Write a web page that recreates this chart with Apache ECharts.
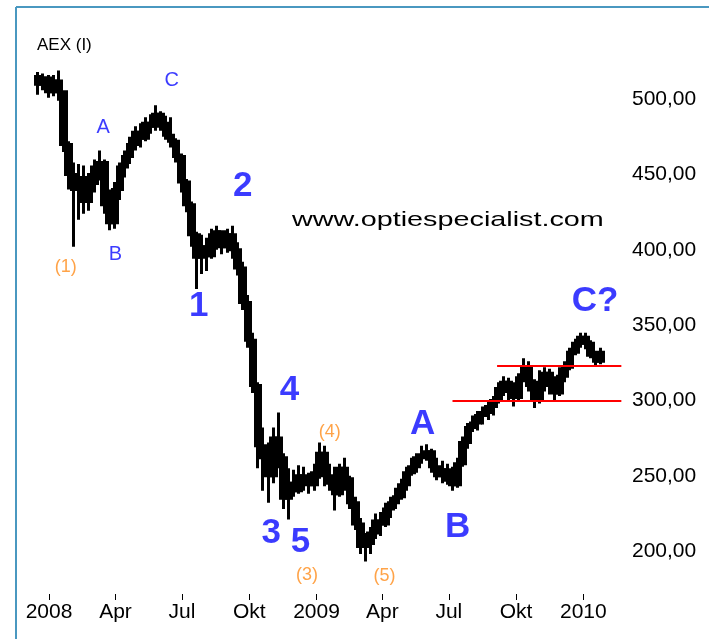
<!DOCTYPE html>
<html>
<head>
<meta charset="utf-8">
<script src="https://cdn.jsdelivr.net/npm/echarts@6.0.0/dist/echarts.min.js"></script>
<style>
  html, body { margin: 0; padding: 0; background: #fff; }
  #main { width: 709px; height: 639px; }
</style>
</head>
<body>
<div id="main"></div>
<script>
  // weekly bars AEX
  var weeks = [
    '2007-12-17','2007-12-24','2007-12-31','2008-01-07','2008-01-14','2008-01-21','2008-01-28','2008-02-04','2008-02-11','2008-02-18',
    '2008-02-25','2008-03-03','2008-03-10','2008-03-17','2008-03-24','2008-03-31','2008-04-07','2008-04-14','2008-04-21','2008-04-28',
    '2008-05-05','2008-05-12','2008-05-19','2008-05-26','2008-06-02','2008-06-09','2008-06-16','2008-06-23','2008-06-30','2008-07-07',
    '2008-07-14','2008-07-21','2008-07-28','2008-08-04','2008-08-11','2008-08-18','2008-08-25','2008-09-01','2008-09-08','2008-09-15',
    '2008-09-22','2008-09-29','2008-10-06','2008-10-13','2008-10-20','2008-10-27','2008-11-03','2008-11-10','2008-11-17','2008-11-24',
    '2008-12-01','2008-12-08','2008-12-15','2008-12-22','2008-12-29','2009-01-05','2009-01-12','2009-01-19','2009-01-26','2009-02-02',
    '2009-02-09','2009-02-16','2009-02-23','2009-03-02','2009-03-09','2009-03-16','2009-03-23','2009-03-30','2009-04-06','2009-04-13',
    '2009-04-20','2009-04-27','2009-05-04','2009-05-11','2009-05-18','2009-05-25','2009-06-01','2009-06-08','2009-06-15','2009-06-22',
    '2009-06-29','2009-07-06','2009-07-13','2009-07-20','2009-07-27','2009-08-03','2009-08-10','2009-08-17','2009-08-24','2009-08-31',
    '2009-09-07','2009-09-14','2009-09-21','2009-09-28','2009-10-05','2009-10-12','2009-10-19','2009-10-26','2009-11-02','2009-11-09',
    '2009-11-16','2009-11-23','2009-11-30','2009-12-07','2009-12-14','2009-12-21','2009-12-28','2010-01-04','2010-01-11','2010-01-18',
    '2010-01-25'
  ];
  var open = [
    515,510,514,505,512,505,470,450,440,448, 432,444,455,458,430,418,440,455,462,470,
    478,474,484,482,490,484,476,472,462,445, 430,410,395,402,396,410,412,402,410,400,
    388,365,340,310,270,262,250,275,262,235, 245,240,250,245,244,252,265,250,245,238,
    255,248,232,218,203,205,212,220,218,228, 232,236,244,252,256,262,264,266,256,250,
    254,247,244,258,272,282,285,290,292,296, 300,308,312,306,302,315,322,310,300,312,
    318,310,305,316,322,332,338,342,338,330, 326
  ];
  var close = [
    510,514,505,512,505,470,450,440,448,432, 444,455,458,430,418,440,455,462,470,478,
    474,484,482,490,484,476,472,462,445,430, 410,395,402,396,410,412,402,410,400,388,
    365,340,310,270,262,250,275,262,235,245, 240,250,245,244,252,265,250,245,238,255,
    248,232,218,203,205,212,220,218,228,232, 236,244,252,256,262,264,266,256,250,254,
    247,244,258,272,282,285,290,292,296,300, 308,312,306,302,315,322,310,300,312,318,
    310,305,316,322,332,338,342,338,330,326, 332
  ];
  var low = [
    503,506,501,502,499,465,440,402,420,424, 426,438,446,424,413,414,433,448,457,466,
    468,472,477,479,479,473,468,458,438,425, 402,374,384,386,394,400,397,398,394,383,
    360,335,305,255,240,232,245,255,228,221, 236,238,240,238,240,248,243,240,227,236,
    240,228,214,198,193,198,208,210,216,222, 228,234,240,250,252,258,260,252,247,245,
    244,240,242,256,268,279,280,284,287,290, 298,303,300,296,300,312,306,295,298,306,
    304,300,303,312,320,330,335,334,328,323, 324
  ];
  var high = [
    518,517,516,516,519,506,472,458,457,456, 451,460,466,460,440,445,458,466,475,482,
    484,488,490,496,492,489,488,474,464,447, 432,412,410,408,414,416,413,414,416,405,
    392,370,345,312,282,272,282,292,265,255, 254,257,256,252,258,272,270,258,256,258,
    262,250,236,222,212,216,225,226,232,236, 242,248,256,262,265,270,271,268,262,260,
    258,256,262,276,285,290,293,296,300,303, 312,316,315,312,318,328,326,314,320,322,
    321,316,322,326,335,341,345,345,340,333, 335
  ];

  // axis ticks
  var xTickDates = ['2008-01-01','2008-04-01','2008-07-01','2008-10-01','2009-01-01','2009-04-01','2009-07-01','2009-10-01','2010-01-01'];
  var xTickLabels = ['2008','Apr','Jul','Okt','2009','Apr','Jul','Okt','2010'];
  var yTicks = [200, 250, 300, 350, 400, 450, 500];

  // wave counts
  var bigText = ['1','2','3','4','5','A','B','C?'];
  var bigDates = ['2008-07-24','2008-09-22','2008-10-31','2008-11-25','2008-12-10','2009-05-26','2009-07-13','2010-01-17'];
  var bigValues = [362.7, 442.4, 212, 306.9, 206, 284.4, 216, 366];

  var smallText = ['A','B','C'];
  var smallDates = ['2008-03-15','2008-04-01','2008-06-17'];
  var smallValues = [481.5, 397.2, 512.7];

  var orangeText = ['(1)','(3)','(4)','(5)'];
  var orangeDates = ['2008-01-24','2008-12-19','2009-01-19','2009-04-04'];
  var orangeValues = [388.6, 184.1, 279, 183.4];

  // support / resistance lines
  var lines = [
    {from: '2009-07-06', to: '2010-02-22', value: 300},
    {from: '2009-09-05', to: '2010-02-22', value: 323}
  ];

  function t(s) { return echarts.time.parse(s).getTime(); }

  var xTickTimes = xTickDates.map(t);

  function labelSeries(dates, values, texts, color, size, weight) {
    return {
      type: 'scatter',
      silent: true,
      symbolSize: 1,
      itemStyle: {color: 'transparent'},
      data: dates.map(function (d, i) {
        return {value: [t(d), values[i]], name: texts[i]};
      }),
      label: {
        show: true,
        position: 'inside',
        formatter: '{b}',
        color: color,
        fontSize: size,
        fontWeight: weight,
        fontFamily: 'Liberation Sans'
      },
      z: 5
    };
  }

  var myChart = echarts.init(document.getElementById('main'));
  myChart.setOption({
    animation: false,
    backgroundColor: '#fff',
    textStyle: {fontFamily: 'Liberation Sans'},
    title: {
      text: 'AEX (I)',
      left: 37,
      top: 37,
      padding: 0,
      textStyle: {fontFamily: 'Liberation Sans', fontSize: 17, fontWeight: 'normal', color: '#000'}
    },
    grid: {left: 30, right: 84, top: 54, bottom: 45, outerBoundsMode: 'none'},
    xAxis: {
      type: 'value',
      min: t('2007-12-06'),
      max: t('2010-02-27'),
      axisLine: {show: false},
      splitLine: {show: false},
      axisTick: {show: true, customValues: xTickTimes, length: 6, lineStyle: {color: '#000'}},
      axisLabel: {
        customValues: xTickTimes,
        margin: 8,
        fontSize: 21,
        color: '#000',
        formatter: function (v) {
          var i = xTickTimes.indexOf(v);
          return i >= 0 ? xTickLabels[i] : '';
        }
      }
    },
    yAxis: {
      type: 'value',
      position: 'right',
      min: 171.5,
      max: 530,
      axisLine: {show: false},
      axisTick: {show: false},
      splitLine: {show: false},
      axisLabel: {
        customValues: yTicks,
        margin: 7,
        fontSize: 21,
        color: '#000',
        formatter: function (v) { return v.toFixed(2).replace('.', ','); }
      }
    },
    graphic: [
      {type: 'line', shape: {x1: 16, y1: 7, x2: 709, y2: 7}, style: {stroke: '#4a98c0', lineWidth: 2}},
      {type: 'line', shape: {x1: 16, y1: 7, x2: 16, y2: 639}, style: {stroke: '#4a98c0', lineWidth: 2}},
      {
        type: 'text', x: 292, y: 220, scaleX: 1.37,
        style: {text: 'www.optiespecialist.com', fontSize: 21, fontFamily: 'Liberation Sans', fill: '#000', verticalAlign: 'middle'}
      }
    ],
    series: [
      {
        type: 'candlestick',
        barWidth: 6,
        data: weeks.map(function (d, i) { return [t(d), open[i], close[i], low[i], high[i]]; }),
        itemStyle: {color: '#000', color0: '#000', borderColor: '#000', borderColor0: '#000', borderWidth: 3},
        markLine: {
          silent: true,
          symbol: 'none',
          label: {show: false},
          lineStyle: {color: '#ff0000', width: 2, type: 'solid'},
          data: lines.map(function (l) {
            return [{coord: [t(l.from), l.value]}, {coord: [t(l.to), l.value]}];
          })
        }
      },
      labelSeries(bigDates, bigValues, bigText, '#0a0aff', 35, 'bold'),
      labelSeries(smallDates, smallValues, smallText, '#0a0aff', 20, 'normal'),
      labelSeries(orangeDates, orangeValues, orangeText, '#ff8c1a', 18, 'normal')
    ]
  });
</script>
</body>
</html>
